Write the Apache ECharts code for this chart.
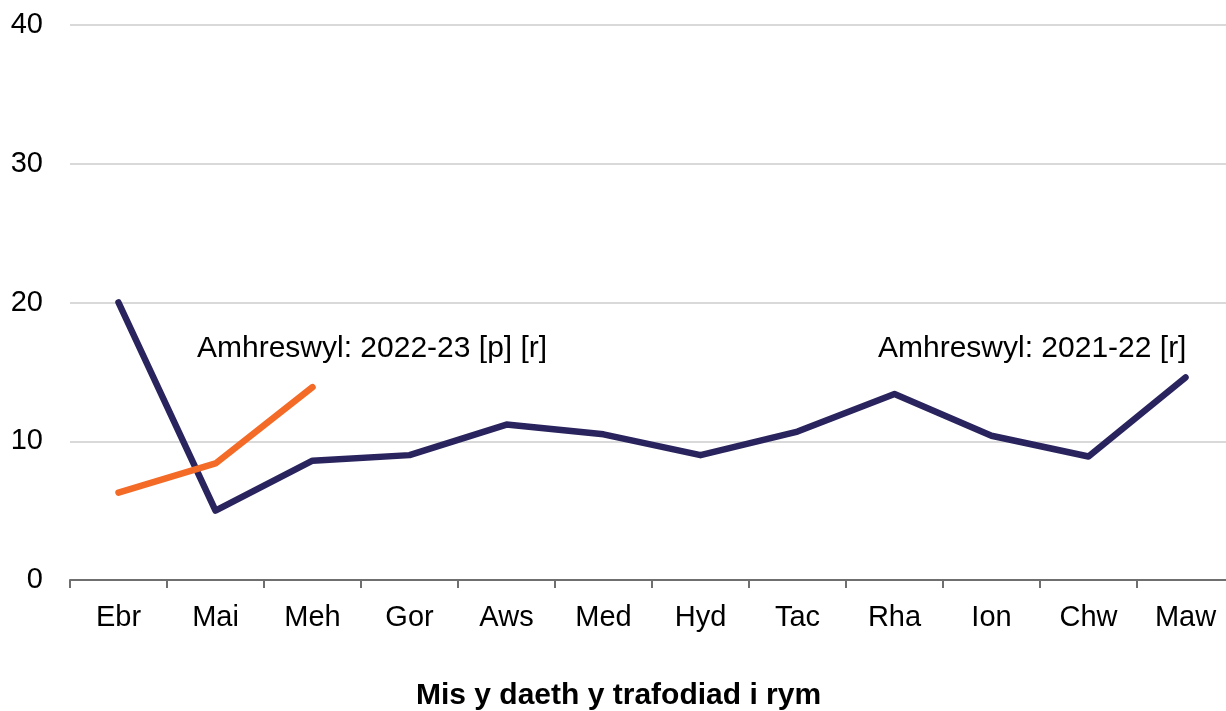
<!DOCTYPE html>
<html><head><meta charset="utf-8">
<script src="https://cdn.jsdelivr.net/npm/echarts@6/dist/echarts.min.js"></script>
<style>html,body{margin:0;padding:0;background:#fff;overflow:hidden;width:1226px;height:711px}#c{width:1234px;height:711px}</style>
</head><body><div id="c"></div>
<script>
const months = ['Ebr','Mai','Meh','Gor','Aws','Med','Hyd','Tac','Rha','Ion','Chw','Maw'];
const series2021 = [20.0, 5.0, 8.6, 9.0, 11.2, 10.5, 9.0, 10.7, 13.4, 10.4, 8.9, 14.6];
const series2022 = [6.3, 8.4, 13.9];
const yTicks = [0, 10, 20, 30, 40];
const label2021 = 'Amhreswyl: 2021-22 [r]';
const label2022 = 'Amhreswyl: 2022-23 [p] [r]';
const axisTitle = 'Mis y daeth y trafodiad i rym';

const FONT = '"Liberation Sans", Arial, sans-serif';
const chart = echarts.init(document.getElementById('c'), null, {renderer: 'canvas'});
chart.setOption({
  animation: false,
  backgroundColor: '#ffffff',
  grid: {left: 70, top: 25, right: 0, bottom: 131, containLabel: false},
  xAxis: {
    type: 'category', data: months, boundaryGap: true,
    axisLine: {show: true, lineStyle: {color: '#6f6f6f', width: 2}},
    axisTick: {show: true, length: 8, alignWithLabel: false, lineStyle: {color: '#6f6f6f', width: 2}},
    axisLabel: {color: '#000', fontFamily: FONT, fontSize: 29, margin: 23, interval: 0},
    splitLine: {show: false}
  },
  yAxis: {
    type: 'value', min: yTicks[0], max: yTicks[yTicks.length - 1], interval: 10,
    axisLine: {show: false}, axisTick: {show: false},
    axisLabel: {color: '#000', fontFamily: FONT, fontSize: 29, margin: 27},
    splitLine: {show: true, lineStyle: {color: '#d9d9d9', width: 2}}
  },
  series: [
    {name: '2021-22', type: 'line', data: series2021, symbol: 'none', z: 3,
     lineStyle: {color: '#2a245e', width: 6.5, cap: 'round', join: 'round'}},
    {name: '2022-23', type: 'line', data: series2022, symbol: 'none', z: 4,
     lineStyle: {color: '#f36b27', width: 6.5, cap: 'round', join: 'round'}}
  ],
  graphic: [
    {type: 'text', left: 197, top: 334, z: 10,
     style: {text: label2022, font: '30px ' + FONT, fill: '#000'}},
    {type: 'text', left: 878, top: 334, z: 10,
     style: {text: label2021, font: '30px ' + FONT, fill: '#000'}},
    {type: 'text', left: 416, top: 681, z: 10,
     style: {text: axisTitle, font: 'bold 30px ' + FONT, fill: '#000'}}
  ]
});
</script>
</body></html>
